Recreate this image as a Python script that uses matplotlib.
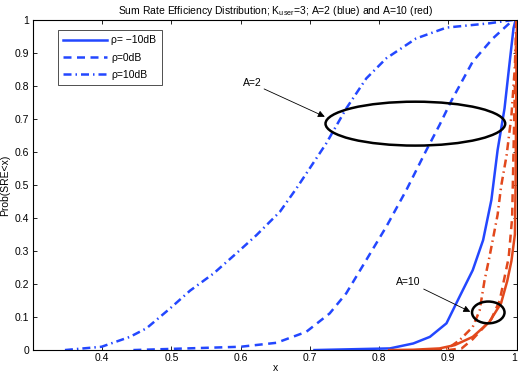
import numpy as np
import matplotlib
matplotlib.use('Agg')
import matplotlib.pyplot as plt
from matplotlib.patches import Ellipse

# ===================== global settings =====================
plt.rcParams['font.family'] = ['Liberation Sans', 'DejaVu Sans']
plt.rcParams['font.size'] = 7.5
plt.rcParams['xtick.direction'] = 'in'
plt.rcParams['ytick.direction'] = 'in'
plt.rcParams['xtick.top'] = True
plt.rcParams['ytick.right'] = True

BLUE = '#2347ff'
RED = '#e2481c'

# ===================== data =====================
# A=2 (blue)
x_a2_m10 = [0.707, 0.816, 0.850, 0.874, 0.898, 0.917, 0.936, 0.951, 0.963, 0.972, 0.982, 0.989, 0.995, 0.998]
y_a2_m10 = [0.0, 0.005, 0.02, 0.04, 0.081, 0.162, 0.242, 0.333, 0.455, 0.606, 0.732, 0.864, 0.975, 1.0]

x_a2_0 = [0.445, 0.600, 0.652, 0.695, 0.729, 0.753, 0.782, 0.811, 0.840, 0.869, 0.888, 0.905, 0.936, 0.965, 0.989, 0.997]
y_a2_0 = [0.0, 0.01, 0.022, 0.055, 0.111, 0.172, 0.273, 0.374, 0.485, 0.606, 0.682, 0.755, 0.874, 0.944, 0.99, 1.0]

x_a2_10 = [0.346, 0.399, 0.440, 0.464, 0.498, 0.527, 0.561, 0.594, 0.623, 0.657, 0.681, 0.724, 0.753, 0.782,
           0.811, 0.854, 0.898, 0.960, 0.994]
y_a2_10 = [0.0, 0.01, 0.04, 0.066, 0.126, 0.18, 0.232, 0.293, 0.348, 0.419, 0.49, 0.626, 0.732, 0.823,
           0.884, 0.944, 0.977, 0.99, 1.0]

# A=10 (red)
x_a10_m10 = [0.815, 0.850, 0.888, 0.910, 0.936, 0.960, 0.977, 0.986, 0.992, 0.997, 0.998, 0.999, 1.0]
y_a10_m10 = [0.0, 0.001, 0.005, 0.015, 0.04, 0.085, 0.142, 0.21, 0.27, 0.35, 0.5, 0.8, 1.0]

x_a10_0 = [0.900, 0.920, 0.936, 0.963, 0.975, 0.982, 0.988, 0.993, 0.995, 0.997, 0.999, 1.0]
y_a10_0 = [0.0, 0.005, 0.033, 0.094, 0.15, 0.22, 0.28, 0.4, 0.6, 0.8, 0.95, 1.0]

x_a10_10 = [0.880, 0.900, 0.917, 0.936, 0.946, 0.953, 0.960, 0.972, 0.977, 0.985, 0.992, 0.997, 0.999]
y_a10_10 = [0.0, 0.005, 0.03, 0.07, 0.12, 0.21, 0.28, 0.41, 0.495, 0.59, 0.71, 0.86, 1.0]

legend_labels = ['\u03c1= \u221210dB', '\u03c1=0dB', '\u03c1=10dB']

# ===================== plot =====================
fig = plt.figure(figsize=(5.18, 3.74), dpi=100)
ax = fig.add_axes([0.064, 0.064, 0.934, 0.8825])

lw = 1.8
l1, = ax.plot(x_a2_m10, y_a2_m10, '-', color=BLUE, lw=lw)
l2, = ax.plot(x_a2_0, y_a2_0, '--', color=BLUE, lw=lw, dashes=(3.2, 2.2))
l3, = ax.plot(x_a2_10, y_a2_10, '-.', color=BLUE, lw=lw, dashes=(3.2, 1.6, 0.6, 1.6))
ax.plot(x_a10_m10, y_a10_m10, '-', color=RED, lw=lw)
ax.plot(x_a10_0, y_a10_0, '--', color=RED, lw=lw, dashes=(3.2, 2.2))
ax.plot(x_a10_10, y_a10_10, '-.', color=RED, lw=lw, dashes=(3.2, 1.6, 0.6, 1.6))

# annotations: ellipses + arrows
ax.add_patch(Ellipse((0.853, 0.686), 0.26, 0.133, fill=False, ec='k', lw=1.8, zorder=5))
ax.add_patch(Ellipse((0.9585, 0.114), 0.047, 0.066, fill=False, ec='k', lw=1.8, zorder=5))
arrow = dict(arrowstyle='-|>', color='k', lw=0.6, mutation_scale=10, shrinkA=0, shrinkB=0)
ax.annotate('A=2', xy=(0.722, 0.707), xytext=(0.603, 0.808), ha='left', va='center',
            fontsize=7.5, arrowprops=arrow)
ax.annotate('A=10', xy=(0.9325, 0.116), xytext=(0.8256, 0.207), ha='left', va='center',
            fontsize=7.5, arrowprops=arrow)

ax.set_xlim(0.3, 1.0)
ax.set_ylim(0, 1)
ax.set_xticks([0.4, 0.5, 0.6, 0.7, 0.8, 0.9, 1.0])
ax.set_xticklabels(['0.4', '0.5', '0.6', '0.7', '0.8', '0.9', '1'])
ax.set_yticks(np.arange(0, 1.01, 0.1))
ax.set_yticklabels(['0', '0.1', '0.2', '0.3', '0.4', '0.5', '0.6', '0.7', '0.8', '0.9', '1'])
ax.tick_params(length=3, width=0.6, labelsize=7.5)
ax.tick_params(axis='x', pad=2)
ax.tick_params(axis='y', pad=3)
for s in ax.spines.values():
    s.set_linewidth(0.8)
# keep the last x label inside the figure
ax.get_xticklabels()[-1].set_horizontalalignment('right')

ax.set_xlabel('x', fontsize=7.5, labelpad=0)
ax.set_ylabel('Prob(SRE<x)', fontsize=7.5, labelpad=3)
ax.set_title('Sum Rate Efficiency Distribution; K$_{\\mathregular{user}}$=3; A=2 (blue) and A=10 (red)',
             fontsize=7.5, pad=4)

leg = ax.legend([l1, l2, l3], legend_labels, loc='upper left', bbox_to_anchor=(0.041, 0.985),
                fontsize=7.5, frameon=True, fancybox=False, edgecolor='k', handlelength=4.2,
                borderpad=0.5, labelspacing=0.7, handletextpad=0.4)
leg.get_frame().set_linewidth(0.6)

fig.savefig('out.png', dpi=100)
